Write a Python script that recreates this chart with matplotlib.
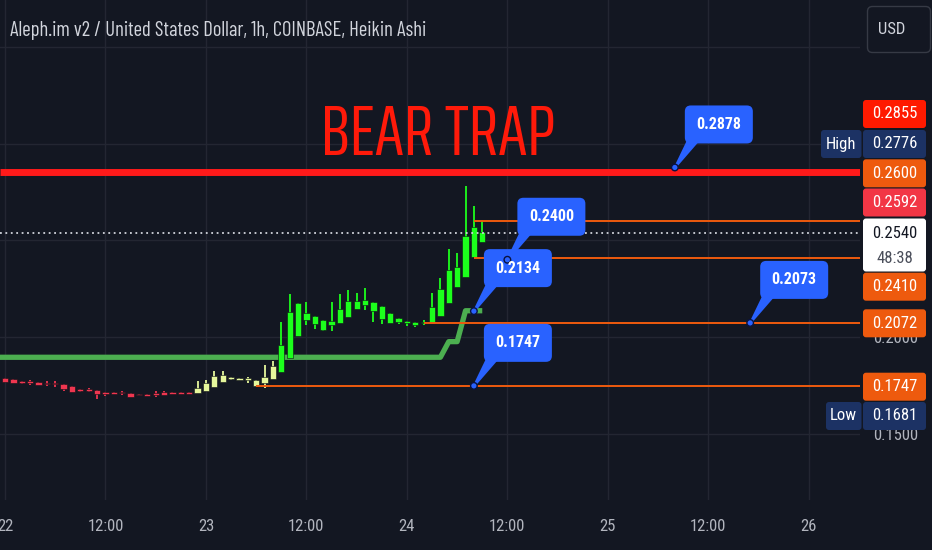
import matplotlib
matplotlib.use('Agg')
import matplotlib.pyplot as plt
from matplotlib import font_manager as fm
from matplotlib.font_manager import FontProperties
from matplotlib.textpath import TextPath
from matplotlib.patches import FancyBboxPatch, Polygon, Circle

# ---------------- data ----------------
hours = list(range(0, 58))  # hourly candles from 22 00:00
opens = [0.1789, 0.1781, 0.1774, 0.1772, 0.1767, 0.1763, 0.1763, 0.1757, 0.1745, 0.1732,
         0.1731, 0.1725, 0.1717, 0.1715, 0.1717, 0.1708, 0.1706, 0.1705, 0.1708, 0.1714,
         0.1714, 0.1714, 0.1714, 0.1708, 0.1720, 0.1743, 0.1767, 0.1781, 0.1776, 0.1776,
         0.1748, 0.1762, 0.1781, 0.1817, 0.1890, 0.2007, 0.2088, 0.2066, 0.2036, 0.2062,
         0.2071, 0.2105, 0.2145, 0.2166, 0.2135, 0.2092, 0.2071, 0.2076, 0.2071, 0.2062,
         0.2071, 0.2071, 0.2110, 0.2178, 0.2261, 0.2312, 0.2416, 0.2491]
highs = [0.1790, 0.1781, 0.1774, 0.1777, 0.1767, 0.1771, 0.1771, 0.1757, 0.1745, 0.1732,
         0.1737, 0.1725, 0.1717, 0.1715, 0.1720, 0.1708, 0.1706, 0.1705, 0.1722, 0.1720,
         0.1714, 0.1714, 0.1714, 0.1774, 0.1777, 0.1825, 0.1824, 0.1794, 0.1787, 0.1791,
         0.1777, 0.1856, 0.1876, 0.2076, 0.2223, 0.2175, 0.2183, 0.2109, 0.2088, 0.2183,
         0.2223, 0.2243, 0.2229, 0.2252, 0.2180, 0.2161, 0.2126, 0.2097, 0.2084, 0.2079,
         0.2088, 0.2226, 0.2304, 0.2456, 0.2437, 0.2782, 0.2679, 0.2601]
lows = [0.1767, 0.1760, 0.1755, 0.1751, 0.1751, 0.1746, 0.1743, 0.1722, 0.1717, 0.1715,
        0.1715, 0.1680, 0.1696, 0.1706, 0.1698, 0.1691, 0.1698, 0.1694, 0.1691, 0.1698,
        0.1705, 0.1705, 0.1705, 0.1708, 0.1720, 0.1743, 0.1767, 0.1777, 0.1775, 0.1763,
        0.1745, 0.1738, 0.1781, 0.1817, 0.1890, 0.2007, 0.2062, 0.2041, 0.2033, 0.2033,
        0.2071, 0.2105, 0.2143, 0.2140, 0.2079, 0.2067, 0.2071, 0.2066, 0.2059, 0.2053,
        0.2062, 0.2071, 0.2110, 0.2178, 0.2261, 0.2312, 0.2416, 0.2491]
closes = [0.1768, 0.1760, 0.1760, 0.1760, 0.1751, 0.1755, 0.1755, 0.1729, 0.1717, 0.1722,
          0.1722, 0.1703, 0.1705, 0.1706, 0.1708, 0.1691, 0.1698, 0.1694, 0.1700, 0.1698,
          0.1705, 0.1705, 0.1705, 0.1734, 0.1763, 0.1798, 0.1805, 0.1791, 0.1786, 0.1788,
          0.1777, 0.1795, 0.1851, 0.1959, 0.2128, 0.2175, 0.2123, 0.2109, 0.2088, 0.2084,
          0.2143, 0.2188, 0.2186, 0.2192, 0.2180, 0.2161, 0.2126, 0.2097, 0.2084, 0.2079,
          0.2079, 0.2157, 0.2249, 0.2347, 0.2361, 0.2525, 0.2568, 0.2542]
candle_kind = ['r'] * 23 + ['y'] * 10 + ['g'] * 25

ma_hours = list(range(-1, 58))
ma_values = [0.1895] * 54 + [0.1976, 0.1976, 0.2136, 0.2136, 0.2136]

resistance_price = 0.2855
level_prices = [0.2600, 0.2410, 0.2072, 0.1747]
level_start_hours = [56, 56, 50, 30]
last_price = 0.2540

callout_values = [0.2878, 0.2400, 0.2134, 0.2073, 0.1747]
callout_hours = [80, 60, 56, 89, 56]

axis_label_values = [0.2855, 0.2776, 0.2600, 0.2592, 0.2540, 0.2410, 0.2072, 0.1747, 0.1681]
axis_label_tags = ['', 'High', '', '', '', '', '', '', 'Low']
countdown = '48:38'

y_ticks = [0.15, 0.20, 0.25, 0.30, 0.35]
y_tick_labels = ['0.1500', '0.2000', '', '', '']   # the others sit under price labels
x_ticks = [0, 12, 24, 36, 48, 60, 72, 84, 96]
x_tick_labels = ['22', '12:00', '23', '12:00', '24', '12:00', '25', '12:00', '26']

title = 'Aleph.im v2 / United States Dollar, 1h, COINBASE, Heikin Ashi'
annotation_text = 'BEAR TRAP'

# ---------------- style ----------------
BG = '#131722'
GRID = '#232632'
TXT = '#d1d4dc'
AXTXT = '#b2b5be'
ORANGE = '#ee5a0e'
NAVY = '#1c3264'
BLUE = '#2962ff'
col = {'r': '#ef3650', 'y': '#e6f79c', 'g': '#1cff1c'}

names = {f.name for f in fm.fontManager.ttflist}
def pick(cands, default='DejaVu Sans'):
    for c in cands:
        if c in names:
            return c
    return default
NARROW = pick(['Roboto Condensed', 'Liberation Sans Narrow', 'Liberation Sans'])
plt.rcParams['font.family'] = [NARROW, 'DejaVu Sans']


def ink(s, fam):
    e = TextPath((0, 0), s, size=100, prop=FontProperties(family=fam)).get_extents()
    return e.width, e.height


def fit_font(text, cands, target_w, target_capref, cap_text=None, width_weight=0.5):
    """pick the condensed face whose ink proportions best match, return (family, size_pt)"""
    best = None
    for fam in cands:
        if fam not in names:
            continue
        iw, _ = ink(text, fam)
        _, ih = ink(cap_text or text, fam)
        score = abs(iw / ih - target_w / target_capref)
        if best is None or score < best[0]:
            best = (score, fam, iw, ih)
    if best is None:
        return NARROW, 12
    _, fam, iw, ih = best
    px = 100 * (target_w / iw) ** width_weight * (target_capref / ih) ** (1 - width_weight)
    return fam, px * 0.72


BIGFONT, bt_pt = fit_font(annotation_text,
                          ['Sofia Sans Extra Condensed', 'Saira ExtraCondensed',
                           'Fira Sans Extra Condensed', 'Barlow Condensed', 'Sofia Sans Condensed',
                           'Saira Condensed', 'Asap Condensed', 'Archivo Narrow', 'PT Sans Narrow',
                           'Roboto Condensed'], 225, 50)
TITLEFONT, title_pt = fit_font(title,
                               ['PT Sans Narrow', 'Fira Sans Condensed', 'Barlow Semi Condensed',
                                'Sofia Sans Condensed', 'Asap Condensed', 'Archivo Narrow',
                                'Encode Sans Condensed', 'IBM Plex Sans Condensed',
                                'Roboto Condensed', 'Fira Sans Extra Condensed',
                                'Barlow Condensed'], 411, 15.3, cap_text='H', width_weight=0.85)

W, H = 932, 550
fig = plt.figure(figsize=(W / 100, H / 100), dpi=100, facecolor=BG)
ax = fig.add_axes([0, 50 / H, 860 / W, 500 / H])
ax.set_facecolor(BG)
ax.set_xlim(-5 / 8.373, 855 / 8.373)
ax.set_ylim(0.2 - 163 / 1931, 0.2 + 337 / 1931)
for s in ax.spines.values():
    s.set_visible(False)

ax.set_yticks(y_ticks)
ax.set_yticklabels(y_tick_labels)
ax.yaxis.tick_right()
ax.set_xticks(x_ticks)
ax.set_xticklabels(x_tick_labels)
ax.tick_params(axis='both', length=0, colors=AXTXT, labelsize=12)
ax.tick_params(axis='y', pad=9.5)
ax.tick_params(axis='x', pad=14)
ax.grid(True, color=GRID, lw=1)
ax.set_axisbelow(True)

# candles
w = 0.75
for h, o, hi, lo, c, k in zip(hours, opens, highs, lows, closes, candle_kind):
    cc = col[k]
    ax.vlines(h, lo, hi, color=cc, lw=1.3, zorder=3)
    ax.bar(h, abs(c - o), bottom=min(o, c), width=w, color=cc, edgecolor='#0d1016',
           linewidth=0.4, zorder=4)

ax.plot(ma_hours, ma_values, color='#4caf50', lw=3.8, zorder=2, solid_capstyle='butt',
        solid_joinstyle='round')

x0, x1 = ax.get_xlim()
ax.hlines(resistance_price, x0, x1, color='#ff1a1a', lw=5, zorder=5)
for p, s in zip(level_prices, level_start_hours):
    ax.hlines(p, s, x1, color=ORANGE, lw=1.4, zorder=5)
ax.hlines(last_price, x0, x1, color=TXT, lw=1.3, linestyles=(0, (1, 2)), zorder=5)

# ---------------- overlay in pixel coords ----------------
ov = fig.add_axes([0, 0, 1, 1])
ov.set_xlim(0, W)
ov.set_ylim(H, 0)
ov.axis('off')
ov.patch.set_alpha(0)
ov.set_zorder(5)

def to_px(h, p):
    x, y = ax.transData.transform((h, p))
    return x, H - y

ov.text(437.5, 155, annotation_text, color='#ff1a0a', fontsize=bt_pt,
        family=[BIGFONT, 'DejaVu Sans'], ha='center', va='baseline', zorder=4)

ov.text(9.5, 36, title, color=TXT, fontsize=title_pt, family=[TITLEFONT, 'DejaVu Sans'],
        ha='left', va='baseline')

ov.add_patch(FancyBboxPatch((867.5, 6.5), 63, 46, boxstyle='round,pad=0,rounding_size=5',
                            fc=BG, ec='#363a45', lw=1))
ov.text(892, 29.5, 'USD', color=TXT, fontsize=12, ha='center', va='center')

for v, hh in zip(callout_values, callout_hours):
    tx, ty = to_px(hh, v)
    L, B = tx + 10, ty - 24
    bw, bh = 68, 38
    ov.add_patch(Polygon([(L + 2, B - 3), (L + 15, B - 3), (tx + 2.5, ty - 1), (tx - 1.5, ty + 1)],
                         closed=True, fc=BLUE, ec='none', zorder=6))
    ov.add_patch(FancyBboxPatch((L, B - bh), bw, bh, boxstyle='round,pad=0,rounding_size=6',
                                fc=BLUE, ec='none', zorder=6))
    ov.add_patch(Circle((tx, ty), 3.3, fc=BLUE, ec='#0a1240', lw=1, zorder=7))
    ov.text(L + bw / 2, B - bh / 2, '{:.4f}'.format(v), color='white', fontsize=11.5,
            fontweight='bold', ha='center', va='center', zorder=8)

label_centers = [114, 144, 173.3, 202.5, 233.3, 286.7, 323.3, 386.7, 416]
label_bgs = ['#ff1a00', NAVY, ORANGE, '#f23645', '#ffffff', ORANGE, ORANGE, ORANGE, NAVY]
for v, tag, cy, bg in zip(axis_label_values, axis_label_tags, label_centers, label_bgs):
    if bg == '#ffffff':
        ov.add_patch(FancyBboxPatch((863, 218.5), 63, 53, boxstyle='round,pad=0,rounding_size=3',
                                    fc=bg, ec='none', zorder=6))
        ov.text(895, cy, '{:.4f}'.format(v), color='#131722', fontsize=12,
                ha='center', va='center', zorder=7)
        ov.text(895, cy + 25, countdown, color='#4a4e5a', fontsize=12,
                ha='center', va='center', zorder=7)
        continue
    ov.add_patch(FancyBboxPatch((863, cy - 14), 63, 28, boxstyle='round,pad=0,rounding_size=3',
                                fc=bg, ec='none', zorder=6))
    ov.text(895, cy, '{:.4f}'.format(v), color='white', fontsize=12,
            ha='center', va='center', zorder=7)
    if tag:
        tl = 821 if tag == 'High' else 826
        ov.add_patch(FancyBboxPatch((tl, cy - 14), 861.5 - tl, 28,
                                    boxstyle='round,pad=0,rounding_size=3',
                                    fc=bg, ec='none', zorder=6))
        ov.text((tl + 861.5) / 2, cy, tag, color='white', fontsize=12,
                ha='center', va='center', zorder=7)

fig.savefig('out.png', dpi=100, facecolor=BG)
